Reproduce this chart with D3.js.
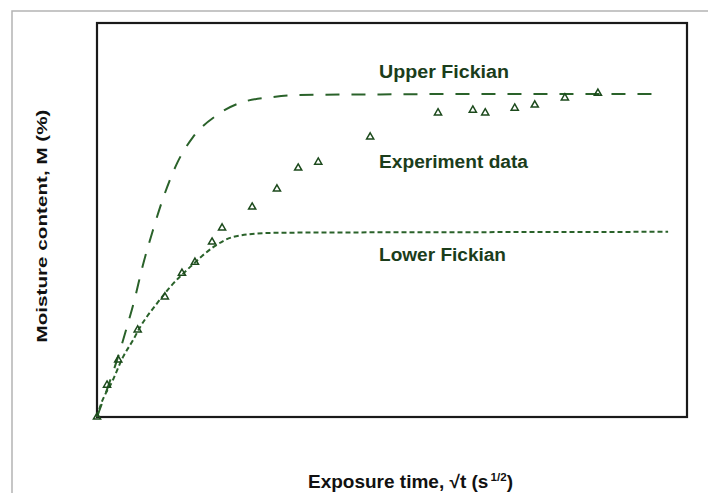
<!DOCTYPE html>
<html><head><meta charset="utf-8">
<script src="https://cdn.jsdelivr.net/npm/d3@7"></script>
<style>html,body{margin:0;padding:0;background:#fff;}</style>
</head><body>
<svg id="c" width="708" height="493"></svg>
<script>
// Experiment data (sqrt time units, moisture % units — relative scale)
const expX = [0, 1.7, 3.6, 6.9, 11.5, 14.4, 16.6, 19.5, 21.2, 26.3, 30.5, 34.1, 37.5, 46.3, 57.8, 63.7, 65.8, 70.8, 74.2, 79.3, 84.9];
const expY = [0, 8.1, 14.5, 22.1, 30.5, 36.5, 39.3, 44.4, 48.0, 53.3, 57.9, 63.2, 64.7, 71.1, 77.2, 77.9, 77.2, 78.4, 79.2, 81.0, 82.2];
// Upper Fickian curve (read points)
const upX = [0, 1.7, 3.4, 5.1, 6.4, 7.6, 9.5, 11.2, 13.6, 16.3, 20.3, 24.2, 29.8, 33.9, 50, 70, 95.9];
const upY = [0, 7.0, 14.5, 23.0, 30.0, 37.5, 47.5, 55.5, 64.5, 71.1, 76.6, 79.7, 81.2, 81.7, 81.9, 82.0, 82.0];
// Lower Fickian curve (read points)
const loX = [0, 0.5, 2.7, 4.4, 6.1, 7.3, 10.2, 12.4, 15.8, 19.7, 23.1, 28.8, 34.4, 60, 96.8];
const loY = [0, 2.5, 9.4, 15.2, 19.5, 22.8, 28.9, 33.0, 38.1, 43.1, 45.7, 46.7, 46.8, 46.9, 47.0];
const labels = ["Upper Fickian", "Experiment data", "Lower Fickian"];
const labelX = [47.8, 47.8, 47.8];
const labelY = [86.0, 63.2, 39.6];

const svg = d3.select("#c");
const x = d3.scaleLinear().domain([0, 100]).range([97, 687]);
const y = d3.scaleLinear().domain([0, 100]).range([417, 23]);
const green = "#2a622a";

// outer gray frame
svg.append("path").attr("d", "M12,493 L12,11 L708,11").attr("fill", "none")
  .attr("stroke", "#b4b4b4").attr("stroke-width", 1.5);

// plot box
svg.append("rect").attr("x", x(0)).attr("y", y(100)).attr("width", x(100) - x(0)).attr("height", y(0) - y(100))
  .attr("fill", "none").attr("stroke", "#1a1a1a").attr("stroke-width", 2.2);

const line = d3.line().x(d => x(d[0])).y(d => y(d[1])).curve(d3.curveMonotoneX);
svg.append("path").datum(upX.map((v, i) => [v, upY[i]])).attr("d", line)
  .attr("fill", "none").attr("stroke", green).attr("stroke-width", 2).attr("stroke-dasharray", "14,12");
svg.append("path").datum(loX.map((v, i) => [v, loY[i]])).attr("d", line)
  .attr("fill", "none").attr("stroke", green).attr("stroke-width", 2).attr("stroke-dasharray", "5,3");

const tri = d3.symbol().type(d3.symbolTriangle).size(22);
svg.selectAll("path.tri").data(expX.map((v, i) => [v, expY[i]])).enter().append("path")
  .attr("class", "tri").attr("d", tri)
  .attr("transform", d => `translate(${x(d[0])},${y(d[1])})`)
  .attr("fill", "none").attr("stroke", "#1c4a1c").attr("stroke-width", 1.5);

const lw = [130, 149, 127];
svg.selectAll("text.lab").data(labels).enter().append("text").attr("class", "lab")
  .attr("x", (d, i) => x(labelX[i])).attr("y", (d, i) => y(labelY[i]))
  .attr("font-family", "'Liberation Sans Narrow', 'Arial Narrow', 'Liberation Sans', sans-serif")
  .attr("font-weight", "bold").attr("font-size", 18).attr("fill", "#1b3d1b")
  .attr("textLength", (d, i) => lw[i]).attr("lengthAdjust", "spacingAndGlyphs")
  .text(d => d);

// axis titles
const xt = svg.append("text").attr("x", 308).attr("y", 488)
  .attr("font-family", "'Liberation Sans Narrow', 'Arial Narrow', 'Liberation Sans', sans-serif")
  .attr("font-weight", "bold").attr("font-size", 18).attr("fill", "#111")
  .attr("textLength", 205).attr("lengthAdjust", "spacingAndGlyphs");
xt.append("tspan").text("Exposure time, \u221At (s");
xt.append("tspan").attr("font-size", 11).attr("dy", -7).attr("dx", 2).text("1/2");
xt.append("tspan").attr("dy", 7).text(")");

svg.append("text").attr("transform", "translate(47,226) rotate(-90)").attr("text-anchor", "middle")
  .attr("font-family", "'Liberation Sans', Arial, sans-serif").attr("font-weight", "bold")
  .attr("font-size", 15.5).attr("fill", "#111")
  .attr("textLength", 233).attr("lengthAdjust", "spacingAndGlyphs")
  .text("Moisture content, M (%)");
</script>
</body></html>
